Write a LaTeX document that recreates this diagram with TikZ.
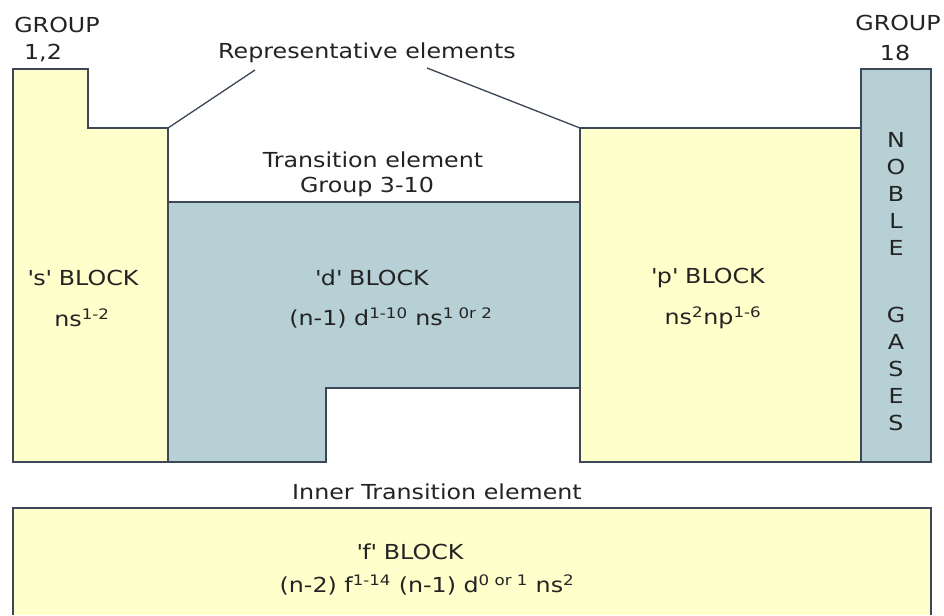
\documentclass[tikz,border=0pt]{standalone}
\usepackage{fontspec}
\setmainfont{DejaVu Sans}[FakeStretch=1.15]
\usepackage{xcolor}
\usepackage{tikz}
\usetikzlibrary{calc,positioning}
\definecolor{amarillo}{RGB}{255,255,204}
\definecolor{azulgris}{RGB}{182,208,214}
\definecolor{borde}{RGB}{60,72,88}
\definecolor{texto}{RGB}{35,35,35}
\newcommand{\qt}{\textquotesingle}
\tikzset{
  bloqs/.style={fill=amarillo,draw=borde,line width=1.2pt,line join=miter},
  bloqd/.style={fill=azulgris,draw=borde,line width=1.2pt,line join=miter},
  lbl/.style={text=texto,inner sep=1pt,font=\fontsize{15.5}{18}\selectfont},
  guia/.style={draw=borde,line width=1pt}
}

\begin{document}
\begin{tikzpicture}[x=0.75pt,y=-0.75pt]
\useasboundingbox (0,0) rectangle (944,615);
% s block
\draw[bloqs] (13,69) -- (88,69) -- (88,128) -- (168,128) -- (168,462) -- (13,462) -- cycle;
\node[lbl] (gr12) at (57,25) {GROUP};
\node[lbl] (g12) at (43,53) {1,2};
\node[lbl] (sblk) at (83,278) {\qt s\qt\ BLOCK};
\node[lbl] (scfg) at (82,318) {ns\textsuperscript{1-2}};
% d block
\draw[bloqd] (168,202) -- (580,202) -- (580,388) -- (326,388) -- (326,462) -- (168,462) -- cycle;
\node[lbl] (trans) at (373,160) {Transition element};
\node[lbl] (grp) at (367,187) {Group 3-10};
\node[lbl] (dblk) at (372,278) {\qt d\qt\ BLOCK};
\node[lbl] (dcfg) at (391,318) {(n-1) d\textsuperscript{1-10} ns\textsuperscript{1 0r 2}};
% p block
\draw[bloqs] (580,128) -- (861,128) -- (861,462) -- (580,462) -- cycle;
\node[lbl] (pblk) at (708,278) {\qt p\qt\ BLOCK};
\node[lbl] (pcfg) at (713,318) {ns\textsuperscript{2}np\textsuperscript{1-6}};
% gases nobles
\draw[bloqd] (861,69) -- (931,69) -- (931,462) -- (861,462) -- cycle;
\node[lbl] (gr18) at (898,23) {GROUP};
\node[lbl] (g18) at (895,53) {18};
\foreach \l [count=\i] in {N,O,B,L,E}
  \node[lbl] (ng\i) at (896,113+27*\i) {\l};
\foreach \l [count=\i] in {G,A,S,E,S}
  \node[lbl] (gs\i) at (896,288+27*\i) {\l};
% representativos
\node[lbl] (rep) at (367,53) {Representative elements};
\coordinate (repa) at (255,70);
\coordinate (repb) at (427,68);
\coordinate (esqs) at (168,128);
\coordinate (esqp) at (580,128);
\draw[guia] (repa) -- (esqs);
\draw[guia] (repb) -- (esqp);
% f block
\node[lbl] (inner) at (437,492) {Inner Transition element};
\fill[amarillo] (13,508) rectangle (931,615);
\draw[borde,line width=1.2pt] (13,615) -- (13,508) -- (931,508) -- (931,615);
\node[lbl] (fblk) at (410,552) {\qt f\qt\ BLOCK};
\node[lbl] (fcfg) at (427,585) {(n-2) f\textsuperscript{1-14} (n-1) d\textsuperscript{0 or 1} ns\textsuperscript{2}};
\end{tikzpicture}
\end{document}
